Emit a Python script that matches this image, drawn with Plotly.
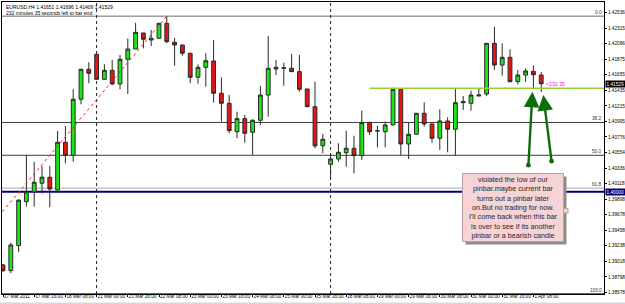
import plotly.graph_objects as go

# ---------------- data (EURUSD H4) ----------------
bar_index = list(range(70))
open_ = [1.38967, 1.38887, 1.39240, 1.39862, 1.39999, 1.40122, 1.40207, 1.40027, 1.40701, 1.40517,
         1.41309, 1.41733, 1.41945, 1.41591, 1.41718, 1.41525, 1.41874, 1.42019, 1.42246, 1.42147,
         1.42171, 1.42383, 1.42114, 1.42076, 1.41959, 1.41620, 1.41761, 1.41850, 1.41394, 1.41252,
         1.40851, 1.41035, 1.40842, 1.41012, 1.41369, 1.41737, 1.41747, 1.41747, 1.41699, 1.41454,
         1.41204, 1.40653, 1.40390, 1.40465, 1.40554, 1.40616, 1.40512, 1.40978, 1.40865, 1.40851,
         1.40946, 1.41450, 1.40677, 1.40814, 1.41111, 1.40960, 1.40758, 1.41002, 1.40885, 1.41261,
         1.41252, 1.41355, 1.41384, 1.42100, 1.41793, 1.41902, 1.41557, 1.41652, 1.41704, 1.41651]
high = [1.38982, 1.39282, 1.39896, 1.40522, 1.40427, 1.40366, 1.40366, 1.40861, 1.40931, 1.41450,
        1.41737, 1.41832, 1.41949, 1.41805, 1.41864, 1.41935, 1.42168, 1.42391, 1.42248, 1.42288,
        1.42387, 1.42481, 1.42179, 1.42079, 1.41963, 1.41803, 1.41959, 1.42147, 1.41620, 1.41369,
        1.41133, 1.41087, 1.41026, 1.41497, 1.42203, 1.41864, 1.41826, 1.41949, 1.41935, 1.41457,
        1.41557, 1.40818, 1.40546, 1.40687, 1.40865, 1.40794, 1.41148, 1.40992, 1.40931, 1.40992,
        1.41473, 1.41454, 1.40978, 1.41115, 1.41266, 1.40963, 1.41167, 1.41054, 1.41464, 1.41355,
        1.41430, 1.41464, 1.42104, 1.42335, 1.42100, 1.42015, 1.41723, 1.41747, 1.41786, 1.41696]
low = [1.38868, 1.38850, 1.39147, 1.39791, 1.39791, 1.39980, 1.39783, 1.40017, 1.40404, 1.40427,
       1.41238, 1.41535, 1.41589, 1.41589, 1.41507, 1.41450, 1.41384, 1.42017, 1.42029, 1.42062,
       1.42168, 1.42100, 1.41783, 1.41925, 1.41535, 1.41529, 1.41487, 1.41261, 1.40992, 1.40828,
       1.40758, 1.40695, 1.40522, 1.40946, 1.41063, 1.41652, 1.41501, 1.41694, 1.41416, 1.41200,
       1.40616, 1.40546, 1.40192, 1.40427, 1.40356, 1.40260, 1.40451, 1.40804, 1.40630, 1.40630,
       1.40943, 1.40522, 1.40465, 1.40811, 1.40922, 1.40695, 1.40592, 1.40560, 1.40512, 1.41158,
       1.41148, 1.41353, 1.41355, 1.41723, 1.41642, 1.41555, 1.41518, 1.41557, 1.41451, 1.41409]
close = [1.38887, 1.39250, 1.39882, 1.39999, 1.40136, 1.40207, 1.40041, 1.40701, 1.40517, 1.41309,
         1.41733, 1.41676, 1.41591, 1.41718, 1.41525, 1.41874, 1.42019, 1.42255, 1.42157, 1.42171,
         1.42383, 1.42123, 1.42076, 1.41959, 1.41620, 1.41761, 1.41854, 1.41394, 1.41252, 1.40865,
         1.41035, 1.40828, 1.41012, 1.41369, 1.41747, 1.41761, 1.41754, 1.41699, 1.41450, 1.41204,
         1.40649, 1.40744, 1.40465, 1.40560, 1.40616, 1.40512, 1.40978, 1.40851, 1.40862, 1.40946,
         1.41450, 1.40677, 1.40814, 1.41111, 1.40960, 1.40758, 1.41002, 1.40885, 1.41261, 1.41275,
         1.41369, 1.41369, 1.42100, 1.41793, 1.41902, 1.41557, 1.41652, 1.41709, 1.41656, 1.41529]

time_tick_index = [0, 4, 8, 12, 16, 20, 24, 28, 32, 36, 40, 44, 48, 52, 56, 60, 64, 68]
time_tick_text = ["17 Mar 2011", "17 Mar 16:00", "18 Mar 08:00", "21 Mar 00:00", "21 Mar 16:00",
                  "22 Mar 08:00", "23 Mar 00:00", "23 Mar 16:00", "24 Mar 08:00", "25 Mar 00:00",
                  "25 Mar 16:00", "28 Mar 08:00", "29 Mar 00:00", "29 Mar 16:00", "30 Mar 08:00",
                  "31 Mar 00:00", "31 Mar 16:00", "1 Apr 08:00"]
price_ticks = [1.42536, 1.42315, 1.42096, 1.41875, 1.41655, 1.41435, 1.41215, 1.40995, 1.40776,
               1.40554, 1.40336, 1.40118, 1.39898, 1.39678, 1.39458, 1.39238, 1.39018, 1.38798, 1.38578]

week_separators = [12, 42]
fib_levels = [1.42484, 1.40981, 1.40517, 1.40053, 1.38560]
fib_labels = ["0.0", "38.2", "50.0", "61.8", "100.0"]
fib_colors = ["#6a6a6a", "#3c3c3c", "#3c3c3c", "#a8a8a8", "#3c3c3c"]
fib_anchor_index = [-9, 21]
fib_anchor_price = [1.38550, 1.42484]
round_level = 1.40000
pinbar_line_index = [47, 80]
pinbar_line_price = 1.41464
arrow_tips = [(67.88, 1.41416), (69.27, 1.41369)]
arrow_tails = [(67.35, 1.40356), (70.35, 1.40413)]

note_text = ("violated the low of our<br>pinbar.maybe current bar<br>turns out a pinbar later<br>"
             "on.But no trading for now.<br>I'll come back when this bar<br>is over to see if its another<br>"
             "pinbar or a bearish candle")

AX_FONT = "Arial, Liberation Sans, sans-serif"
AX_SIZE = 4.7

W, H = 625, 304
ML, MR, MT, MB = 2, 21, 2, 10


def px_x(p):
    return (p - ML) / (W - ML - MR)


def px_y(p):
    return (H - MB - p) / (H - MT - MB)


fig = go.Figure()

fig.add_trace(go.Candlestick(
    x=bar_index, open=open_, high=high, low=low, close=close,
    increasing=dict(fillcolor="#19e619", line=dict(color="#2a2a2a", width=1)),
    decreasing=dict(fillcolor="#e81414", line=dict(color="#2a2a2a", width=1)),
    whiskerwidth=0, showlegend=False, hoverinfo="skip"))

# fib trend line (red dotted)
fig.add_trace(go.Scatter(x=fib_anchor_index, y=fib_anchor_price, mode="lines",
                         line=dict(color="#ff2020", width=1, dash="dot"),
                         showlegend=False, hoverinfo="skip"))
# horizontal yellow-green line
fig.add_trace(go.Scatter(x=pinbar_line_index, y=[pinbar_line_price] * 2, mode="lines",
                         line=dict(color="#9acd32", width=1.4),
                         showlegend=False, hoverinfo="skip"))

shapes = []
for lv, col in zip(fib_levels, fib_colors):
    shapes.append(dict(type="line", xref="paper", yref="y", x0=0, x1=1, y0=lv, y1=lv,
                       line=dict(color=col, width=1), layer="below"))
shapes.append(dict(type="line", xref="paper", yref="y", x0=0, x1=1, y0=round_level, y1=round_level,
                   line=dict(color="#000080", width=2), layer="below"))
for s in week_separators:
    shapes.append(dict(type="line", xref="x", yref="paper", x0=s, x1=s, y0=0, y1=1,
                       line=dict(color="#202020", width=1, dash="dot"), layer="below"))
# note box shadow + box
shapes.append(dict(type="rect", xref="paper", yref="paper",
                   x0=px_x(465.5), x1=px_x(566.5), y0=px_y(244.5), y1=px_y(176.5),
                   fillcolor="#8c8c8c", line=dict(width=0)))
shapes.append(dict(type="rect", xref="paper", yref="paper",
                   x0=px_x(462.5), x1=px_x(563.5), y0=px_y(241.5), y1=px_y(173.5),
                   fillcolor="#f8d3d6", line=dict(color="#b8a0a0", width=1)))
shapes.append(dict(type="rect", xref="paper", yref="paper",
                   x0=px_x(563.5), x1=px_x(568), y0=px_y(213), y1=px_y(208.5),
                   fillcolor="#f8d3d6", line=dict(color="#b8a0a0", width=1)))
# window bottom strip
shapes.append(dict(type="rect", xref="paper", yref="paper", x0=-0.01, x1=1.05,
                   y0=px_y(304.5), y1=px_y(302.5), fillcolor="#d8d8d8", line=dict(width=0)))

ann = []
# fib labels
for lv, lab in zip(fib_levels, fib_labels):
    ann.append(dict(xref="paper", yref="y", x=px_x(603.5), y=lv, text=lab, showarrow=False,
                    xanchor="right", yanchor="bottom", yshift=-1,
                    font=dict(family=AX_FONT, size=AX_SIZE, color="#303030")))
# price highlight boxes
ann.append(dict(xref="paper", yref="y", x=px_x(605), y=close[-1], text=f"{close[-1]:.5f}",
                showarrow=False, xanchor="left", yanchor="middle", bgcolor="#000000",
                borderpad=0.6, font=dict(family=AX_FONT, size=AX_SIZE, color="#ffffff")))
ann.append(dict(xref="paper", yref="y", x=px_x(605), y=round_level, text=f"{round_level:.5f}",
                showarrow=False, xanchor="left", yanchor="middle", bgcolor="#000080",
                borderpad=0.6, font=dict(family=AX_FONT, size=AX_SIZE, color="#ffffff")))
# countdown text
ann.append(dict(xref="x", yref="y", x=69.35, y=close[-1], text="<232:35", showarrow=False,
                xanchor="left", yanchor="middle", font=dict(family=AX_FONT, size=5.2, color="#ff00ff")))
# header
ann.append(dict(xref="paper", yref="paper", x=px_x(3.5), y=px_y(2.3),
                text=f"EURUSD,H4 {open_[-1]:.5f} {high[-1]:.5f} {low[-1]:.5f} {close[-1]:.5f}",
                showarrow=False, xanchor="left", yanchor="top",
                font=dict(family=AX_FONT, size=5, color="#000000")))
ann.append(dict(xref="paper", yref="paper", x=px_x(3.5), y=px_y(8.0),
                text="232 minutes 35 seconds left to bar end",
                showarrow=False, xanchor="left", yanchor="top",
                font=dict(family=AX_FONT, size=5, color="#000000")))
# note text
ann.append(dict(xref="paper", yref="paper", x=px_x(513), y=px_y(207.5), text=note_text,
                showarrow=False, xanchor="center", yanchor="middle", align="center",
                font=dict(family="Liberation Sans, Arial, sans-serif", size=7.2, color="#262626")))
# green arrows
for (tx, ty), (sx, sy) in zip(arrow_tips, arrow_tails):
    ann.append(dict(xref="x", yref="y", axref="x", ayref="y", x=tx, y=ty, ax=sx, ay=sy,
                    text="", showarrow=True, arrowhead=2, arrowsize=1.3, arrowwidth=2.4,
                    arrowcolor="#0b6e0b", arrowside="end+start", startarrowhead=6,
                    startarrowsize=0.5))

fig.update_layout(
    width=W, height=H, margin=dict(l=ML, r=MR, t=MT, b=MB),
    paper_bgcolor="#ffffff", plot_bgcolor="#ffffff", template="none",
    shapes=shapes, annotations=ann, showlegend=False,
    xaxis=dict(range=[-0.128, 77.05], rangeslider=dict(visible=False), showgrid=False,
               zeroline=False, showline=True, linecolor="#000000", linewidth=1, mirror=True,
               tickmode="array", tickvals=time_tick_index, ticktext=time_tick_text,
               ticks="outside", ticklen=2, tickcolor="#000000", ticklabelposition="outside right",
               ticklabelstandoff=-3, tickangle=0,
               tickfont=dict(family=AX_FONT, size=AX_SIZE, color="#000000"), automargin=False),
    yaxis=dict(range=[1.38556, 1.42684], side="right", showgrid=False, zeroline=False,
               showline=True, linecolor="#000000", linewidth=1, mirror=True,
               tickmode="array", tickvals=price_ticks, ticktext=[f"{v:.5f}" for v in price_ticks],
               ticks="outside", ticklen=2, tickcolor="#000000",
               tickfont=dict(family=AX_FONT, size=AX_SIZE, color="#000000"), automargin=False),
)

fig.write_html("out.html")
